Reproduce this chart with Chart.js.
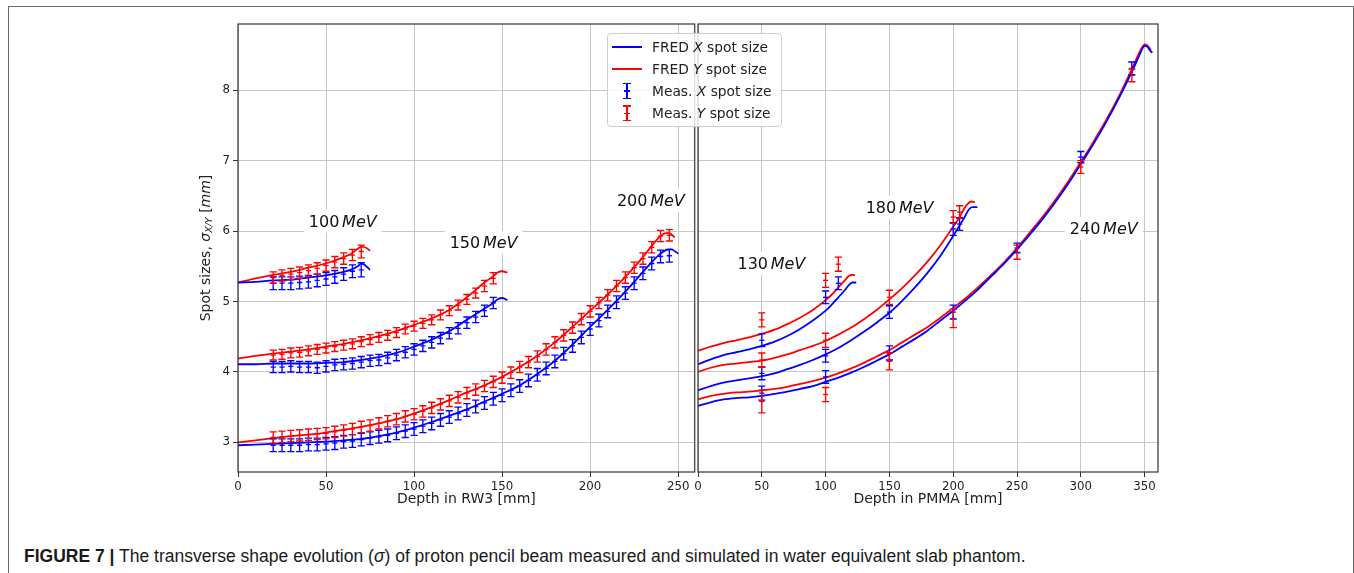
<!DOCTYPE html>
<html><head><meta charset="utf-8">
<script src="https://cdn.jsdelivr.net/npm/chart.js@4.4.1/dist/chart.umd.min.js"></script>
<style>
html,body{margin:0;padding:0;background:#fff;}
#wrap{position:relative;width:1354px;height:573px;overflow:hidden;background:#fff;}
#frame{position:absolute;left:8px;top:6px;width:1346px;height:620px;border:1.3px solid #6a6a6a;border-bottom:none;box-sizing:border-box;}
canvas{position:absolute;top:0;}
#cL{left:0;}
#cR{left:660px;}
#legend{position:absolute;left:607px;top:33px;width:175px;height:94px;box-sizing:border-box;border:1px solid #cfcfcf;border-radius:4px;background:rgba(255,255,255,0.82);font:13.8px "DejaVu Sans",sans-serif;color:#222;}
.row{position:absolute;left:0;width:100%;height:0;}
.ln{position:absolute;left:4px;width:30px;height:2px;top:-1px;}
.tx{position:absolute;left:44px;top:-9px;line-height:18px;white-space:nowrap;}
.eb{position:absolute;left:15px;top:-8px;width:8px;height:16px;}
.eb div{position:absolute;}
#caption{position:absolute;left:24px;top:546px;font:17.5px "Liberation Sans",Arial,sans-serif;line-height:20px;color:#1a1a1a;white-space:nowrap;}
</style>
</head><body>
<div id="wrap">
<div id="frame"></div>
<canvas id="cL" width="700" height="520" style="width:700px;height:520px"></canvas>
<canvas id="cR" width="694" height="520" style="width:694px;height:520px"></canvas>
<div id="legend">
  <div class="row" style="top:12.7px"><span class="ln" style="background:#0000ff"></span><span class="tx">FRED <i>X</i> spot size</span></div>
  <div class="row" style="top:34.7px"><span class="ln" style="background:#ff0000"></span><span class="tx">FRED <i>Y</i> spot size</span></div>
  <div class="row" style="top:57px"><span class="eb" data-c="#0000ff"></span><span class="tx">Meas. <i>X</i> spot size</span></div>
  <div class="row" style="top:79.3px"><span class="eb" data-c="#ff0000"></span><span class="tx">Meas. <i>Y</i> spot size</span></div>
</div>
<div id="caption"><b>FIGURE 7 |</b> The transverse shape evolution (<i>σ</i>) of proton pencil beam measured and simulated in water equivalent slab phantom.</div>
</div>
<script>
// ---------------- DATA: left panel (Depth in RW3 [mm]) ----------------
const rw3Ticks = [0, 50, 100, 150, 200, 250];
const pmmaTicks = [0, 50, 100, 150, 200, 250, 300, 350];
const sizeTicks = [3, 4, 5, 6, 7, 8];

// 100 MeV
const fred100XDepth = [0, 10, 20, 30, 40, 50, 60, 65, 68, 70, 72, 75];
const fred100X      = [5.27, 5.28, 5.30, 5.31, 5.34, 5.37, 5.42, 5.46, 5.50, 5.54, 5.52, 5.45];
const fred100YDepth = [0, 10, 20, 30, 40, 50, 60, 65, 68, 70, 73, 75];
const fred100Y      = [5.27, 5.33, 5.38, 5.42, 5.48, 5.54, 5.63, 5.69, 5.75, 5.78, 5.76, 5.72];
const meas100Depth = [20, 25, 30, 35, 40, 45, 50, 55, 60, 65, 70];
const meas100X     = [5.26, 5.26, 5.26, 5.27, 5.28, 5.30, 5.32, 5.35, 5.39, 5.43, 5.45];
const meas100XErr  = [0.09, 0.09, 0.09, 0.09, 0.09, 0.09, 0.09, 0.09, 0.09, 0.09, 0.10];
const meas100Y     = [5.34, 5.37, 5.39, 5.41, 5.44, 5.47, 5.51, 5.56, 5.61, 5.66, 5.71];
const meas100YErr  = [0.08, 0.08, 0.08, 0.08, 0.08, 0.08, 0.08, 0.08, 0.08, 0.08, 0.09];

// 150 MeV
const fred150Depth = [0, 10, 20, 30, 40, 50, 60, 70, 80, 90, 100, 110, 120, 130, 140, 145, 148, 150, 153];
const fred150X     = [4.11, 4.11, 4.12, 4.12, 4.12, 4.13, 4.14, 4.17, 4.21, 4.27, 4.36, 4.46, 4.58, 4.74, 4.90, 4.98, 5.04, 5.05, 5.02];
const fred150Y     = [4.19, 4.23, 4.26, 4.29, 4.32, 4.36, 4.40, 4.45, 4.51, 4.58, 4.67, 4.76, 4.88, 5.06, 5.27, 5.36, 5.42, 5.43, 5.41];
const meas150Depth = [20, 25, 30, 35, 40, 45, 50, 55, 60, 65, 70, 75, 80, 85, 90, 95, 100, 105, 110, 115, 120, 125, 130, 135, 140, 145];
const meas150X     = [4.07, 4.07, 4.08, 4.07, 4.07, 4.06, 4.08, 4.10, 4.11, 4.12, 4.14, 4.16, 4.17, 4.20, 4.24, 4.28, 4.32, 4.37, 4.42, 4.48, 4.55, 4.62, 4.70, 4.78, 4.87, 4.98];
const meas150XErr  = [0.08, 0.08, 0.08, 0.08, 0.08, 0.08, 0.08, 0.08, 0.08, 0.08, 0.08, 0.08, 0.08, 0.08, 0.08, 0.08, 0.08, 0.08, 0.08, 0.08, 0.08, 0.08, 0.08, 0.08, 0.08, 0.08];
const meas150Y     = [4.24, 4.25, 4.27, 4.28, 4.30, 4.32, 4.34, 4.36, 4.38, 4.40, 4.43, 4.46, 4.49, 4.52, 4.56, 4.61, 4.65, 4.69, 4.74, 4.81, 4.87, 4.95, 5.03, 5.12, 5.22, 5.33];
const meas150YErr  = [0.07, 0.07, 0.07, 0.07, 0.07, 0.07, 0.07, 0.07, 0.07, 0.07, 0.07, 0.07, 0.07, 0.07, 0.07, 0.07, 0.07, 0.07, 0.07, 0.07, 0.07, 0.07, 0.07, 0.07, 0.08, 0.08];

// 200 MeV
const fred200XDepth = [0, 10, 20, 30, 40, 50, 60, 70, 80, 90, 100, 110, 120, 130, 140, 150, 160, 170, 180, 190, 200, 210, 220, 230, 235, 240, 243, 246, 250];
const fred200X      = [2.96, 2.97, 2.98, 2.99, 3.00, 3.01, 3.03, 3.05, 3.09, 3.14, 3.21, 3.29, 3.38, 3.47, 3.58, 3.69, 3.81, 3.97, 4.16, 4.39, 4.64, 4.88, 5.14, 5.42, 5.56, 5.68, 5.73, 5.74, 5.68];
const fred200YDepth = [0, 10, 20, 30, 40, 50, 60, 70, 80, 90, 100, 110, 120, 130, 140, 150, 160, 170, 180, 190, 200, 210, 220, 230, 235, 240, 243, 245, 248];
const fred200Y      = [3.00, 3.03, 3.06, 3.09, 3.11, 3.14, 3.18, 3.22, 3.27, 3.33, 3.41, 3.50, 3.60, 3.71, 3.81, 3.93, 4.07, 4.23, 4.42, 4.64, 4.87, 5.10, 5.35, 5.63, 5.79, 5.93, 5.97, 5.97, 5.91];
const meas200Depth = [20, 25, 30, 35, 40, 45, 50, 55, 60, 65, 70, 75, 80, 85, 90, 95, 100, 105, 110, 115, 120, 125, 130, 135, 140, 145, 150, 155, 160, 165, 170, 175, 180, 185, 190, 195, 200, 205, 210, 215, 220, 225, 230, 235, 240, 245];
const meas200X     = [2.96, 2.96, 2.96, 2.96, 2.97, 2.97, 2.98, 2.99, 3.01, 3.02, 3.04, 3.06, 3.08, 3.10, 3.13, 3.16, 3.19, 3.23, 3.27, 3.32, 3.36, 3.41, 3.46, 3.51, 3.56, 3.62, 3.67, 3.74, 3.80, 3.88, 3.96, 4.05, 4.15, 4.26, 4.37, 4.49, 4.61, 4.73, 4.86, 4.99, 5.12, 5.26, 5.40, 5.54, 5.64, 5.65];
const meas200XErr  = [0.09, 0.09, 0.09, 0.09, 0.09, 0.09, 0.09, 0.09, 0.09, 0.09, 0.09, 0.09, 0.09, 0.09, 0.09, 0.09, 0.09, 0.09, 0.09, 0.09, 0.09, 0.09, 0.09, 0.09, 0.09, 0.09, 0.09, 0.09, 0.09, 0.09, 0.09, 0.09, 0.09, 0.09, 0.09, 0.09, 0.09, 0.09, 0.09, 0.09, 0.09, 0.09, 0.09, 0.09, 0.09, 0.09];
const meas200Y     = [3.07, 3.08, 3.09, 3.10, 3.11, 3.12, 3.13, 3.15, 3.17, 3.19, 3.22, 3.24, 3.27, 3.30, 3.33, 3.37, 3.40, 3.44, 3.49, 3.54, 3.59, 3.64, 3.70, 3.75, 3.80, 3.86, 3.92, 3.99, 4.07, 4.14, 4.22, 4.32, 4.42, 4.52, 4.63, 4.75, 4.86, 4.98, 5.09, 5.22, 5.34, 5.48, 5.61, 5.77, 5.93, 5.94];
const meas200YErr  = [0.08, 0.08, 0.08, 0.08, 0.08, 0.08, 0.08, 0.08, 0.08, 0.08, 0.08, 0.08, 0.08, 0.08, 0.08, 0.08, 0.08, 0.08, 0.08, 0.08, 0.08, 0.08, 0.08, 0.08, 0.08, 0.08, 0.08, 0.08, 0.08, 0.08, 0.08, 0.08, 0.08, 0.08, 0.08, 0.08, 0.08, 0.08, 0.08, 0.08, 0.08, 0.08, 0.08, 0.08, 0.08, 0.08];

// ---------------- DATA: right panel (Depth in PMMA [mm]) ----------------
// 130 MeV
const fred130XDepth = [0, 10, 20, 30, 40, 50, 60, 70, 80, 90, 100, 105, 110, 115, 118, 121, 124];
const fred130X      = [4.11, 4.18, 4.24, 4.28, 4.32, 4.37, 4.43, 4.51, 4.61, 4.73, 4.87, 4.96, 5.06, 5.16, 5.23, 5.27, 5.27];
const fred130YDepth = [0, 10, 20, 30, 40, 50, 60, 70, 80, 90, 100, 105, 110, 115, 118, 121, 123];
const fred130Y      = [4.30, 4.36, 4.41, 4.45, 4.49, 4.54, 4.60, 4.68, 4.77, 4.88, 5.02, 5.10, 5.20, 5.30, 5.36, 5.38, 5.37];
const meas130Depth = [50, 100, 110];
const meas130X     = [4.45, 5.06, 5.26];
const meas130XErr  = [0.09, 0.09, 0.09];
const meas130Y     = [4.74, 5.30, 5.53];
const meas130YErr  = [0.10, 0.10, 0.10];

// 180 MeV
const fred180XDepth = [0, 10, 20, 30, 40, 50, 60, 70, 80, 90, 100, 110, 120, 130, 140, 150, 160, 170, 180, 190, 200, 205, 209, 212, 215, 219];
const fred180X      = [3.74, 3.80, 3.85, 3.88, 3.91, 3.94, 3.98, 4.04, 4.10, 4.17, 4.25, 4.34, 4.45, 4.57, 4.70, 4.84, 5.01, 5.20, 5.41, 5.65, 5.93, 6.08, 6.20, 6.30, 6.34, 6.34];
const fred180YDepth = [0, 10, 20, 30, 40, 50, 60, 70, 80, 90, 100, 110, 120, 130, 140, 150, 160, 170, 180, 190, 200, 205, 208, 211, 214, 217];
const fred180Y      = [4.00, 4.06, 4.10, 4.12, 4.14, 4.16, 4.20, 4.25, 4.31, 4.37, 4.44, 4.53, 4.63, 4.75, 4.88, 5.03, 5.19, 5.37, 5.57, 5.80, 6.06, 6.20, 6.30, 6.38, 6.42, 6.41];
const meas180Depth = [50, 100, 150, 200, 205];
const meas180X     = [3.98, 4.23, 4.85, 6.03, 6.10];
const meas180XErr  = [0.09, 0.09, 0.09, 0.09, 0.09];
const meas180Y     = [4.17, 4.45, 5.06, 6.20, 6.27];
const meas180YErr  = [0.10, 0.10, 0.10, 0.09, 0.09];

// 240 MeV
const fred240XDepth = [0, 10, 20, 30, 40, 50, 60, 70, 80, 90, 100, 110, 120, 130, 140, 150, 160, 170, 180, 190, 200, 210, 220, 230, 240, 250, 260, 270, 280, 290, 300, 310, 320, 330, 340, 345, 348, 350, 352, 354, 356];
const fred240X      = [3.52, 3.57, 3.61, 3.63, 3.64, 3.66, 3.69, 3.72, 3.76, 3.80, 3.86, 3.92, 3.99, 4.07, 4.16, 4.25, 4.36, 4.47, 4.59, 4.73, 4.87, 5.02, 5.18, 5.36, 5.54, 5.74, 5.95, 6.17, 6.41, 6.67, 6.95, 7.24, 7.55, 7.89, 8.26, 8.46, 8.58, 8.63, 8.62, 8.57, 8.53];
const fred240YDepth = [0, 10, 20, 30, 40, 50, 60, 70, 80, 90, 100, 110, 120, 130, 140, 150, 160, 170, 180, 190, 200, 210, 220, 230, 240, 250, 260, 270, 280, 290, 300, 310, 320, 330, 340, 345, 348, 350, 352, 355];
const fred240Y      = [3.61, 3.66, 3.69, 3.71, 3.72, 3.74, 3.76, 3.79, 3.83, 3.87, 3.92, 3.98, 4.05, 4.13, 4.22, 4.31, 4.42, 4.53, 4.64, 4.77, 4.91, 5.05, 5.21, 5.38, 5.56, 5.76, 5.98, 6.20, 6.44, 6.70, 6.98, 7.27, 7.58, 7.92, 8.30, 8.50, 8.61, 8.65, 8.64, 8.57];
const meas240Depth = [50, 100, 150, 200, 250, 300, 340];
const meas240X     = [3.70, 3.93, 4.27, 4.85, 5.76, 7.05, 8.31];
const meas240XErr  = [0.10, 0.09, 0.10, 0.10, 0.07, 0.08, 0.09];
const meas240Y     = [3.58, 3.68, 4.15, 4.76, 5.70, 6.91, 8.21];
const meas240YErr  = [0.16, 0.10, 0.12, 0.13, 0.10, 0.09, 0.09];

// Energy label anchors (data units)
const rw3LabelText   = ['100', '150', '200'];
const rw3LabelDepth  = [59.5, 139.5, 234.5];
const rw3LabelSize   = [6.14, 5.84, 6.44];
const pmmaLabelText  = ['130', '180', '240'];
const pmmaLabelDepth = [57.5, 158, 318];
const pmmaLabelSize  = [5.54, 6.34, 6.04];

// ---------------- helpers ----------------
const BLUE = '#0000ff', RED = '#ff0000';
const FONT = '"DejaVu Sans", sans-serif';
function pts(xs, ys){ return xs.map((x, i) => ({x: x, y: ys[i]})); }
function curve(xs, ys, color){
  return {data: pts(xs, ys), showLine: true, borderColor: color, backgroundColor: color, borderWidth: 1.8,
          pointRadius: 0, pointHoverRadius: 0, fill: false, cubicInterpolationMode: 'monotone', order: 1};
}
function meas(xs, ys, es, color){
  return {data: pts(xs, ys), errors: es, showLine: false, borderColor: color, backgroundColor: color,
          pointStyle: 'line', pointRadius: 2.6, borderWidth: 1.3, order: 0};
}

const errorBars = {
  id: 'errorBars',
  afterDatasetsDraw(chart){
    const c = chart.ctx, xs = chart.scales.x, ys = chart.scales.y;
    chart.data.datasets.forEach(ds => {
      if (!ds.errors) return;
      c.save(); c.strokeStyle = ds.borderColor; c.lineWidth = 1.35;
      ds.data.forEach((p, i) => {
        const e = ds.errors[i];
        const px = xs.getPixelForValue(p.x);
        const y1 = ys.getPixelForValue(p.y + e), y2 = ys.getPixelForValue(p.y - e);
        c.beginPath();
        c.moveTo(px, y1); c.lineTo(px, y2);
        c.moveTo(px - 3.6, y1); c.lineTo(px + 3.6, y1);
        c.moveTo(px - 3.6, y2); c.lineTo(px + 3.6, y2);
        c.stroke();
      });
      c.restore();
    });
  }
};

const energyLabels = {
  id: 'energyLabels',
  afterDatasetsDraw(chart, args, opts){
    const c = chart.ctx, xs = chart.scales.x, ys = chart.scales.y;
    opts.text.forEach((t, i) => {
      const cx = xs.getPixelForValue(opts.depth[i]), cy = ys.getPixelForValue(opts.size[i]);
      c.save();
      c.font = '16px ' + FONT; const w1 = c.measureText(t).width;
      c.font = 'italic 16px ' + FONT; const w2 = c.measureText('MeV').width;
      const gap = 2.7, w = w1 + gap + w2;
      c.fillStyle = '#ffffff';
      c.fillRect(cx - w / 2 - 5, cy - 11.5, w + 10, 23);
      c.fillStyle = '#111';
      c.textBaseline = 'alphabetic';
      c.font = '16px ' + FONT; c.fillText(t, cx - w / 2, cy + 5.8);
      c.font = 'italic 16px ' + FONT; c.fillText('MeV', cx - w / 2 + w1 + gap, cy + 5.8);
      c.restore();
    });
  }
};

const frameBox = {
  id: 'frameBox',
  afterDraw(chart){
    const a = chart.chartArea, c = chart.ctx;
    c.save(); c.strokeStyle = '#333'; c.lineWidth = 1.2;
    c.strokeRect(a.left, a.top, a.right - a.left, a.bottom - a.top);
    c.restore();
  }
};

const yTitle = {
  id: 'yTitle',
  afterDraw(chart){
    const c = chart.ctx; c.save();
    c.translate(206, (chart.chartArea.top + chart.chartArea.bottom) / 2);
    c.rotate(-Math.PI / 2);
    c.fillStyle = '#222'; c.textBaseline = 'middle';
    const parts = [['Spot sizes, ', '14px ' + FONT, 0], ['σ', 'italic 14px ' + FONT, 0], ['X/Y', 'italic 9.5px ' + FONT, 3.8],
                   [' [', '14px ' + FONT, 0], ['mm', 'italic 14px ' + FONT, 0], [']', '14px ' + FONT, 0]];
    let w = 0; parts.forEach(p => { c.font = p[1]; w += c.measureText(p[0]).width; });
    let x = -w / 2;
    c.textAlign = 'left';
    parts.forEach(p => { c.font = p[1]; c.fillText(p[0], x, p[2]); x += c.measureText(p[0]).width; });
    c.restore();
  }
};

function xScale(max, ticks, title){
  return {
    type: 'linear', min: 0, max: max,
    afterBuildTicks: s => { s.ticks = ticks.map(v => ({value: v})); },
    afterFit: s => { s.height = 48; },
    ticks: {color: '#222', font: {family: FONT, size: 11.8}, padding: 3, maxRotation: 0, includeBounds: false},
    grid: {color: '#c6c6c6', lineWidth: 1, tickLength: 5, tickColor: '#333', tickWidth: 1},
    border: {display: false},
    title: {display: true, text: title, color: '#222', font: {family: FONT, size: 14}, padding: {top: 0, bottom: 12.5}}
  };
}
function yScale(showLabels){
  return {
    type: 'linear', min: 2.58, max: 8.94,
    afterBuildTicks: s => { s.ticks = sizeTicks.map(v => ({value: v})); },
    afterFit: s => { s.width = showLabels ? 238 : 0; },
    ticks: {display: showLabels, color: '#222', font: {family: FONT, size: 11.8}, padding: 3},
    grid: {color: '#c6c6c6', lineWidth: 1, tickLength: 5, tickColor: '#333', drawTicks: showLabels},
    border: {display: false}
  };
}
const baseOpts = {responsive: false, animation: false, devicePixelRatio: 1, events: [],
                  plugins: {legend: {display: false}, tooltip: {enabled: false}}};

new Chart(document.getElementById('cL'), {
  type: 'scatter',
  data: {datasets: [
    curve(fred100XDepth, fred100X, BLUE), curve(fred100YDepth, fred100Y, RED),
    curve(fred150Depth, fred150X, BLUE), curve(fred150Depth, fred150Y, RED),
    curve(fred200XDepth, fred200X, BLUE), curve(fred200YDepth, fred200Y, RED),
    meas(meas100Depth, meas100X, meas100XErr, BLUE), meas(meas100Depth, meas100Y, meas100YErr, RED),
    meas(meas150Depth, meas150X, meas150XErr, BLUE), meas(meas150Depth, meas150Y, meas150YErr, RED),
    meas(meas200Depth, meas200X, meas200XErr, BLUE), meas(meas200Depth, meas200Y, meas200YErr, RED)
  ]},
  options: Object.assign({}, baseOpts, {
    layout: {padding: {left: 0, right: 2, top: 24, bottom: 0}},
    scales: {x: xScale(259.4, rw3Ticks, 'Depth in RW3 [mm]'), y: yScale(true)},
    plugins: {legend: {display: false}, tooltip: {enabled: false},
              energyLabels: {text: rw3LabelText, depth: rw3LabelDepth, size: rw3LabelSize}}
  }),
  plugins: [errorBars, energyLabels, frameBox, yTitle]
});

new Chart(document.getElementById('cR'), {
  type: 'scatter',
  data: {datasets: [
    curve(fred130XDepth, fred130X, BLUE), curve(fred130YDepth, fred130Y, RED),
    curve(fred180XDepth, fred180X, BLUE), curve(fred180YDepth, fred180Y, RED),
    curve(fred240XDepth, fred240X, BLUE), curve(fred240YDepth, fred240Y, RED),
    meas(meas130Depth, meas130X, meas130XErr, BLUE), meas(meas130Depth, meas130Y, meas130YErr, RED),
    meas(meas180Depth, meas180X, meas180XErr, BLUE), meas(meas180Depth, meas180Y, meas180YErr, RED),
    meas(meas240Depth, meas240X, meas240XErr, BLUE), meas(meas240Depth, meas240Y, meas240YErr, RED)
  ]},
  options: Object.assign({}, baseOpts, {
    layout: {padding: {left: 38, right: 196, top: 24, bottom: 0}},
    scales: {x: xScale(360.5, pmmaTicks, 'Depth in PMMA [mm]'), y: yScale(false)},
    plugins: {legend: {display: false}, tooltip: {enabled: false},
              energyLabels: {text: pmmaLabelText, depth: pmmaLabelDepth, size: pmmaLabelSize}}
  }),
  plugins: [errorBars, energyLabels, frameBox]
});

// legend error-bar glyphs
document.querySelectorAll('.eb').forEach(el => {
  const col = el.dataset.c;
  const parts = [
    'left:3.4px;top:0;width:1.3px;height:16px',
    'left:0;top:0;width:8px;height:1.3px',
    'left:0;top:14.7px;width:8px;height:1.3px',
    'left:1.4px;top:7.4px;width:5.2px;height:1.3px'
  ];
  parts.forEach(s => { const d = document.createElement('div'); d.style.cssText = s + ';background:' + col; el.appendChild(d); });
});
</script>
</body></html>
